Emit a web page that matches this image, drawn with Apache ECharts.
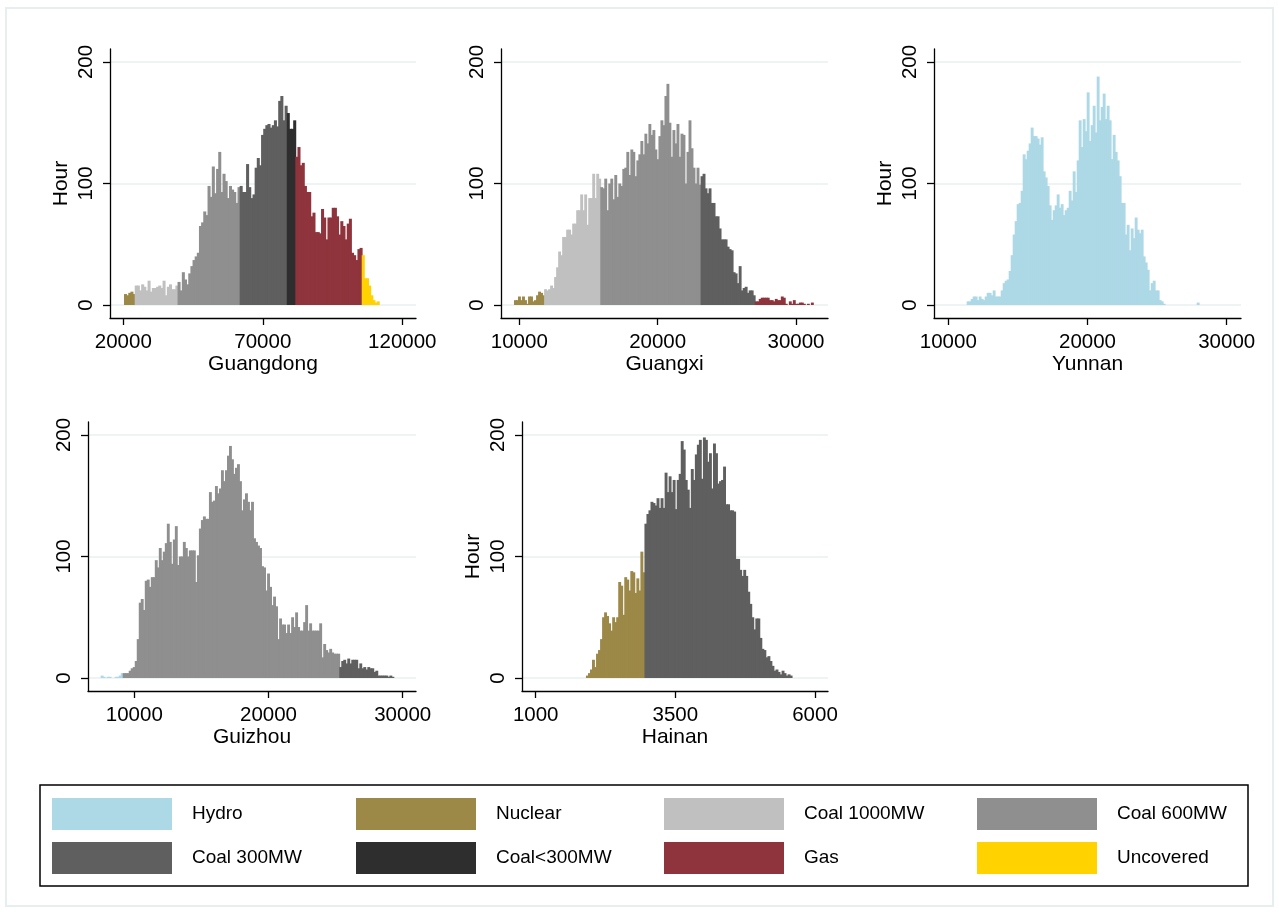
<!DOCTYPE html>
<html><head><meta charset="utf-8">
<script src="https://cdn.jsdelivr.net/npm/echarts@6/dist/echarts.min.js"></script>
<style>html,body{margin:0;padding:0;background:#fff}#c{width:1279px;height:913px}</style>
</head><body><div id="c"></div>
<script>
// ---------- DATA (hours per load bin) ----------
// Guangdong
const gdBinStart = 20251, gdBinWidth = 767.6;
const gdNuclear   = [9, 8, 10, 11, 9];
const gdCoal1000  = [16,16,12,17,15,12,20,11,14,14,15,16,14,20,8,15,17,13,13,16];
const gdCoal600   = [19,12,27,21,17,26,32,37,40,43,65,68,77,74,98,89,114,92,112,126,93,108,102,88,98,95,93,84,97];
const gdCoal300   = [98,93,93,116,97,88,91,113,121,115,140,145,148,149,146,148,152,147,168,172,152,164];
const gdCoalSmall = [158,145,145,152];
const gdGas       = [122,130,115,117,98,93,93,73,76,60,60,59,79,72,54,72,72,80,80,73,58,69,65,54,67,71,43,41,37,46,47];
const gdUncovered = [41,22,22,16,8,4,2,3];
// Guangxi
const gxBinStart = 9617, gxBinWidth = 145;
const gxNuclear  = [4,4,7,4,7,4,1,7,7,3,4,8,11,10,8];
const gxCoal1000 = [13,12,13,16,14,23,31,44,41,56,56,62,62,58,67,67,78,78,91,78,91,66,88,88,108,88,108,104];
const gxCoal600  = [97,96,104,78,100,104,87,107,89,100,98,112,113,126,107,128,126,106,119,124,135,124,141,133,149,140,144,128,120,139,152,148,172,182,150,122,144,133,149,122,141,140,100,126,152,129,113,100,113,99];
const gxCoal300  = [106,108,96,92,96,84,84,73,73,63,54,54,54,48,46,45,27,26,18,32,12,14,15,10,12,12,8];
const gxGas      = [3,3,5,6,6,6,6,4,4,3,5,4,4,7,6,1,0,3,1,4,1,1,2,2,1,0,1,0,2,0];
// Yunnan
const ynBinStart = 11320, ynBinWidth = 143.7;
const ynHydro = [3,3,5,7,7,4,7,5,4,7,10,10,8,12,7,7,7,12,18,20,21,28,41,58,69,83,84,94,124,120,127,133,146,139,139,137,132,138,110,105,98,82,70,78,82,91,80,83,74,78,80,94,86,110,93,119,152,130,153,143,175,135,148,164,142,188,152,163,174,153,164,152,120,140,126,119,106,84,84,58,66,45,63,55,72,62,59,62,40,35,29,12,18,20,12,12,4,3,1,0,0,0,0,0,0,0,0,0,0,0,0,0,0,0,0,2];
// Guizhou
const gzBinStart = 7494, gzBinWidth = 149.4;
const gzHydro   = [2,1,0,1,1,0,0,1,1,2,4];
const gzCoal600 = [4,4,4,6,8,9,14,32,62,65,56,80,81,75,83,83,97,91,107,97,104,111,127,112,94,114,125,93,100,100,112,107,100,105,105,105,79,101,123,130,133,131,131,153,145,146,158,152,156,171,162,171,183,191,180,168,173,176,162,138,147,152,145,138,145,115,112,109,107,92,91,72,86,75,60,67,59,32,49,44,44,37,44,37,50,42,54,42,39,39,46,60,39,45,39,39,39,39,45,17,28,23,21,24,21,20,20,20];
const gzCoal300 = [9,14,15,12,16,12,15,15,15,8,12,8,9,7,9,8,8,5,6,2,2,2,2,2,1,2,1];
// Hainan
const hnBinStart = 1900, hnBinWidth = 36.1;
const hnNuclear = [2,4,7,15,9,20,23,32,50,54,51,45,39,50,46,50,79,76,52,83,81,72,88,87,70,82,72,104,87];
const hnCoal300 = [127,135,138,145,144,142,148,140,148,140,169,153,166,153,163,139,163,168,195,188,163,155,140,172,163,184,192,196,164,198,196,178,185,156,193,185,160,162,163,174,143,143,138,138,137,98,98,89,84,89,84,71,61,50,40,49,49,33,24,23,17,18,14,10,6,7,5,3,6,4,2,3,2];
// Tick labels
const gdTicks = [20000, 70000, 120000];
const gxTicks = [10000, 20000, 30000];
const ynTicks = [10000, 20000, 30000];
const gzTicks = [10000, 20000, 30000];
const hnTicks = [1000, 3500, 6000];
const hourTicks = [0, 100, 200];
const panelNames = ['Guangdong', 'Guangxi', 'Yunnan', 'Guizhou', 'Hainan'];

// ---------- STYLE / LAYOUT ----------
const COLORS = {
  'Hydro':'#add8e6','Nuclear':'#9c8847','Coal 1000MW':'#c0c0c0','Coal 600MW':'#8f8f8f',
  'Coal 300MW':'#5f5f5f','Coal<300MW':'#2e2e2e','Gas':'#8f343c','Uncovered':'#ffd200'
};
const FONT = '"Liberation Sans", Arial, Helvetica, sans-serif';
const grids = [
  {left:110, top:49,  width:306, height:269},
  {left:501, top:49,  width:327, height:269},
  {left:934, top:49,  width:307, height:269},
  {left:88,  top:422, width:328, height:269},
  {left:522, top:422, width:306, height:269}
];
const xRanges = [[15233,124910],[8677,32313],[8973,31027],[6550,30991],[755,6233]];
const xTickSets = [gdTicks, gxTicks, ynTicks, gzTicks, hnTicks];
const showHour = [true, false, true, false, true];
const plain = v => String(Math.round(v));

function renderBar(params, api) {
  const a = api.coord([api.value(0), api.value(2)]);
  const b = api.coord([api.value(1), 0]);
  return {type:'rect', shape:{x:a[0], y:a[1], width:b[0]-a[0]+0.9, height:b[1]-a[1]},
          style:{fill: api.visual('color')}};
}
function histSeries(gi, start, width, segments) {
  let idx = 0; const out = [];
  segments.forEach(([name, vals]) => {
    const data = [];
    vals.forEach(v => { if (v > 0) data.push([start + idx*width, start + (idx+1)*width, v]); idx++; });
    out.push({type:'custom', name, xAxisIndex:gi, yAxisIndex:gi, data,
      encode:{x:[0,1], y:2}, itemStyle:{color:COLORS[name]}, renderItem:renderBar, silent:true, z:3});
  });
  return out;
}
const series = [].concat(
  histSeries(0, gdBinStart, gdBinWidth, [['Nuclear',gdNuclear],['Coal 1000MW',gdCoal1000],['Coal 600MW',gdCoal600],['Coal 300MW',gdCoal300],['Coal<300MW',gdCoalSmall],['Gas',gdGas],['Uncovered',gdUncovered]]),
  histSeries(1, gxBinStart, gxBinWidth, [['Nuclear',gxNuclear],['Coal 1000MW',gxCoal1000],['Coal 600MW',gxCoal600],['Coal 300MW',gxCoal300],['Gas',gxGas]]),
  histSeries(2, ynBinStart, ynBinWidth, [['Hydro',ynHydro]]),
  histSeries(3, gzBinStart, gzBinWidth, [['Hydro',gzHydro],['Coal 600MW',gzCoal600],['Coal 300MW',gzCoal300]]),
  histSeries(4, hnBinStart, hnBinWidth, [['Nuclear',hnNuclear],['Coal 300MW',hnCoal300]])
);

const xAxis = grids.map((g, i) => ({
  type:'value', gridIndex:i, min:xRanges[i][0], max:xRanges[i][1],
  name:panelNames[i], nameLocation:'middle', nameGap:34,
  nameTextStyle:{fontSize:21, color:'#000', fontFamily:FONT},
  axisLine:{show:true, onZero:false, lineStyle:{color:'#000', width:1.3}},
  axisTick:{show:true, length:7, customValues:xTickSets[i], lineStyle:{color:'#000', width:1.3}},
  axisLabel:{customValues:xTickSets[i], formatter:plain, fontSize:20.5, color:'#000', fontFamily:FONT, margin:14},
  splitLine:{show:false}
}));
const yAxis = grids.map((g, i) => ({
  type:'value', gridIndex:i, min:-10.7, max:210.7,
  name: showHour[i] ? 'Hour' : '', nameLocation:'middle', nameGap:38,
  nameTextStyle:{fontSize:21, color:'#000', fontFamily:FONT},
  axisLine:{show:true, onZero:false, lineStyle:{color:'#000', width:1.3}},
  axisTick:{show:true, length:7, customValues:hourTicks, lineStyle:{color:'#000', width:1.3}},
  axisLabel:{customValues:hourTicks, formatter:plain, rotate:90, fontSize:20.5, color:'#000', fontFamily:FONT, margin:13},
  splitLine:{show:true, lineStyle:{color:'#e8eff1', width:1.6}}
}));

const legendCols = [[52,['Hydro','Coal 300MW']],[356,['Nuclear','Coal<300MW']],[664,['Coal 1000MW','Gas']],[977,['Coal 600MW','Uncovered']]];
const legend = legendCols.map(([x, names]) => ({
  orient:'vertical', left:x-5, top:793, data:names, icon:'rect', itemWidth:120, itemHeight:32, itemGap:12,
  selectedMode:false, textStyle:{fontSize:19, color:'#000', fontFamily:FONT, padding:[0,0,0,15]}
}));

const chart = echarts.init(document.getElementById('c'), null, {renderer:'canvas'});
chart.setOption({
  backgroundColor:'#fff', animation:false,
  grid: grids.map(g => Object.assign({outerBoundsMode:'none', containLabel:false}, g)),
  xAxis, yAxis, series, legend,
  graphic:[
    {type:'rect', silent:true, z:-1, shape:{x:6, y:8, width:1267, height:898}, style:{fill:null, stroke:'#e6eef0', lineWidth:2}},
    {type:'rect', silent:true, shape:{x:40, y:785, width:1208, height:101}, style:{fill:null, stroke:'#000', lineWidth:1.5}}
  ]
});
</script></body></html>
